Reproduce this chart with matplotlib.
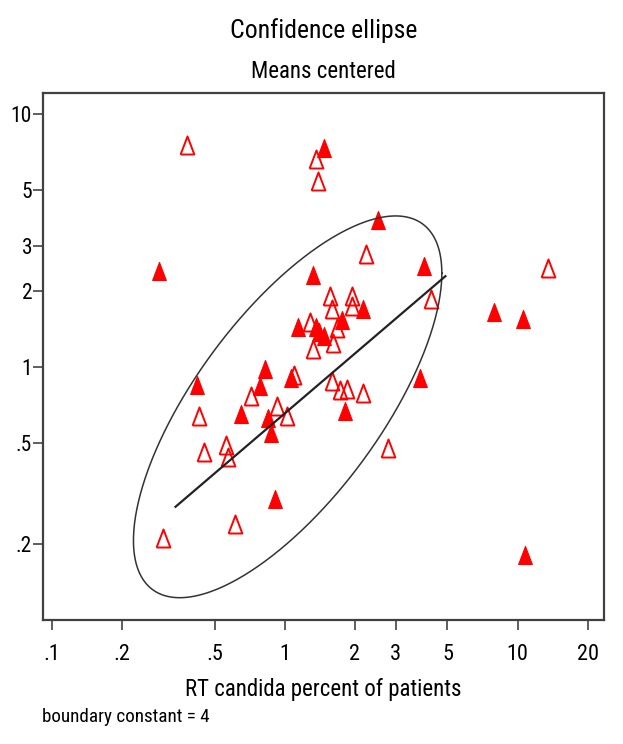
import numpy as np
import matplotlib
matplotlib.use("Agg")
import matplotlib.pyplot as plt
from matplotlib import font_manager

# open triangles (group 0)
open_x = [0.38, 1.36, 1.39, 2.24, 13.5, 4.25, 1.56, 1.95, 1.60, 1.94,
          1.67, 1.28, 1.61, 1.32, 1.60, 1.73, 1.86, 2.17, 2.78, 1.10,
          0.72, 0.93, 1.02, 0.43, 0.45, 0.56, 0.57, 0.61, 0.30]
open_y = [7.5, 6.6, 5.4, 2.8, 2.45, 1.86, 1.90, 1.90, 1.69, 1.74,
          1.42, 1.51, 1.24, 1.18, 0.88, 0.81, 0.82, 0.79, 0.48, 0.93,
          0.77, 0.70, 0.64, 0.64, 0.46, 0.49, 0.44, 0.24, 0.21]

# filled triangles (group 1)
fill_x = [1.47, 0.29, 1.32, 2.52, 3.95, 2.18, 7.95, 10.5, 1.76, 1.14,
          1.36, 1.41, 1.47, 0.82, 0.78, 0.65, 0.85, 0.87, 1.07, 0.42,
          1.82, 3.81, 0.91, 10.8]
fill_y = [7.3, 2.4, 2.3, 3.8, 2.5, 1.69, 1.64, 1.54, 1.53, 1.44,
          1.44, 1.37, 1.32, 0.98, 0.84, 0.65, 0.63, 0.55, 0.90, 0.85,
          0.67, 0.90, 0.30, 0.18]

# fitted line (log-log) end points
reg_x = [0.34, 4.9]
reg_y = [0.28, 2.28]

# ellipse: geometric means, sd of logs, correlation, boundary constant
ell_mean_x = 1.03
ell_mean_y = 0.695
ell_sd_lx = 0.331
ell_sd_ly = 0.377
ell_r = 0.70
boundary_const = 4

xticks = [0.1, 0.2, 0.5, 1, 2, 3, 5, 10, 20]
xticklabels = ['.1', '.2', '.5', '1', '2', '3', '5', '10', '20']
yticks = [0.2, 0.5, 1, 2, 3, 5, 10]
yticklabels = ['.2', '.5', '1', '2', '3', '5', '10']

# the original uses a narrow font; use one if installed, else shrink Liberation Sans
installed = {f.name for f in font_manager.fontManager.ttflist}
narrow = next((n for n in ['Liberation Sans Narrow', 'Arial Narrow', 'Roboto Condensed']
               if n in installed), None)
if narrow:
    plt.rcParams['font.family'] = [narrow, 'DejaVu Sans']
    fs = dict(title=18.5, sub=16.5, xlab=16.5, note=13.8, xtick=16, ytick=15.5)
else:
    plt.rcParams['font.family'] = ['Liberation Sans', 'DejaVu Sans']
    fs = dict(title=17, sub=15.5, xlab=15.5, note=12.8, xtick=14.5, ytick=14)

fig = plt.figure(figsize=(6.23, 7.44), dpi=100)
ax = fig.add_axes([0.0695, 0.1667, 0.9, 0.7087])

# triangle a bit taller than wide
tri = [(-0.76, -1), (0.76, -1), (0, 1), (-0.76, -1)]

ax.plot(open_x, open_y, linestyle='none', marker=tri, markersize=13,
        markerfacecolor='none', markeredgecolor='#ff0000', markeredgewidth=1.4, zorder=2)
ax.plot(fill_x, fill_y, linestyle='none', marker=tri, markersize=13,
        markerfacecolor='#ff0000', markeredgecolor='#ff0000', markeredgewidth=0.8, zorder=2)

# confidence ellipse in log space
t = np.linspace(0, 2 * np.pi, 400)
c = np.sqrt(boundary_const)
lu = np.log10(ell_mean_x) + c * ell_sd_lx * np.cos(t)
lv = np.log10(ell_mean_y) + c * ell_sd_ly * (ell_r * np.cos(t) + np.sqrt(1 - ell_r ** 2) * np.sin(t))
ax.plot(10 ** lu, 10 ** lv, color='#333333', lw=1.1, zorder=3)

ax.plot(reg_x, reg_y, color='#222222', lw=1.6, zorder=3)

ax.set_xscale('log')
ax.set_yscale('log')
ax.set_xlim(0.092, 23.5)
ax.set_ylim(0.1, 12.1)

ax.set_xticks(xticks)
ax.set_xticklabels(xticklabels)
ax.set_yticks(yticks)
ax.set_yticklabels(yticklabels)
ax.minorticks_off()
ax.tick_params(axis='both', direction='out', length=7, width=1.1, color='#333333')
ax.tick_params(axis='x', labelsize=fs['xtick'], pad=10)
ax.tick_params(axis='y', labelsize=fs['ytick'], pad=1)

for sp in ax.spines.values():
    sp.set_color('#404040')
    sp.set_linewidth(1.6)

xc = 0.0695 + 0.9 / 2
fig.text(xc, 1 - 38 / 744, 'Confidence ellipse', ha='center', va='baseline', fontsize=fs['title'])
fig.text(xc, 1 - 78 / 744, 'Means centered', ha='center', va='baseline', fontsize=fs['sub'])
fig.text(xc, 1 - 696 / 744, 'RT candida percent of patients', ha='center', va='baseline', fontsize=fs['xlab'])
fig.text(42 / 623, 1 - 722 / 744, 'boundary constant = 4', ha='left', va='baseline', fontsize=fs['note'])

fig.savefig('out.png', dpi=100)
